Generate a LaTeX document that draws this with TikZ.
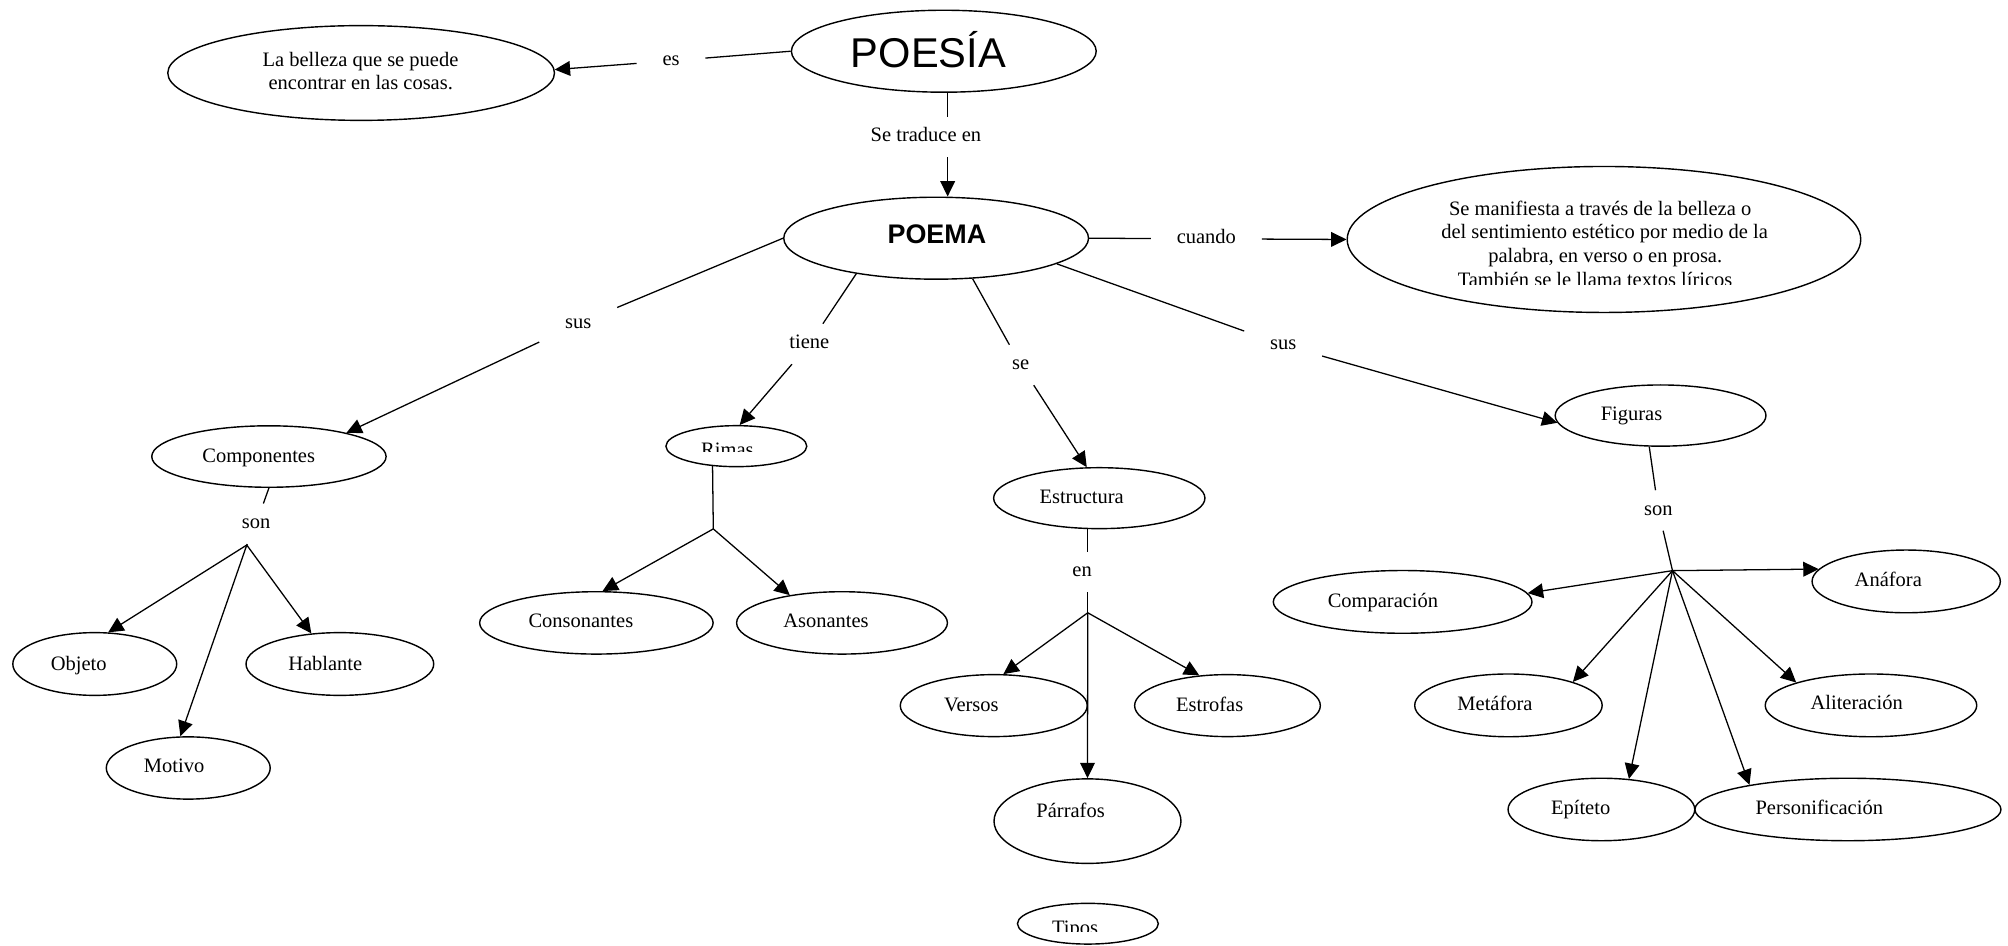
\documentclass[tikz,border=0pt]{standalone}
\usepackage{fontspec}
\setmainfont{Liberation Serif}
\newfontfamily\arialfont{Liberation Sans}
\usetikzlibrary{arrows.meta,shapes.geometric}
\begin{document}
\begin{tikzpicture}[x=1pt,y=-1pt,
  ell/.style 2 args={draw, ellipse, line width=1.1pt, inner sep=0pt, minimum width=#1, minimum height=#2},
  txt/.style={font=\fontsize{16}{18}\selectfont, inner sep=0pt, anchor=base},
  lab/.style={font=\fontsize{16}{18}\selectfont, inner xsep=20pt, inner ysep=12pt, text height=7.2pt, text depth=0pt},
  conn/.style={line width=1pt},
  arr/.style={conn, -{Triangle[length=12pt,width=11.5pt]}},
]
\useasboundingbox (0,0) rectangle (1568,738);

% ellipses
\node[ell={302pt}{74pt}] (belleza) at (282,57) {};
\node[ell={238pt}{64pt}] (poesia) at (737,40) {};
\node[ell={238pt}{64pt}] (poema) at (731,186) {};
\node[ell={401pt}{114pt}] (big) at (1252.5,187) {};
\node[ell={183pt}{48pt}] (comp) at (210,356.5) {};
\node[ell={110pt}{32pt}] (rimas) at (575,348.4) {};
\node[ell={165pt}{47.6pt}] (estr) at (858.4,389) {};
\node[ell={164.6pt}{47.8pt}] (figuras) at (1296.7,324.5) {};
\node[ell={128pt}{49pt}] (objeto) at (74,518.5) {};
\node[ell={146.6pt}{49pt}] (hablante) at (265.4,518.5) {};
\node[ell={128pt}{48.6pt}] (motivo) at (147,599.7) {};
\node[ell={182.3pt}{48.7pt}] (conson) at (465.7,486.4) {};
\node[ell={164.6pt}{48.7pt}] (ason) at (657.5,486.4) {};
\node[ell={146pt}{48.4pt}] (versos) at (776,551) {};
\node[ell={145pt}{48.4pt}] (estrofas) at (958.5,551) {};
\node[ell={146pt}{66pt}] (parrafos) at (849.2,641.2) {};
\node[ell={110pt}{31.8pt}] (tipos) at (849.5,721.3) {};
\node[ell={202pt}{49pt}] (compar) at (1095.3,470) {};
\node[ell={147pt}{49pt}] (anafora) at (1488.5,454) {};
\node[ell={146.4pt}{49pt}] (metafora) at (1177.9,550.8) {};
\node[ell={165.2pt}{49pt}] (aliter) at (1461,550.8) {};
\node[ell={145.8pt}{48.8pt}] (epiteto) at (1250.5,632.1) {};
\node[ell={239pt}{48.8pt}] (personif) at (1443,632.1) {};

% texts in ellipses
\node[txt] (tbel1) at (281.5,52.1) {La belleza que se puede};
\node[txt] (tbel2) at (281.7,69.8) {encontrar en las cosas.};
\node[txt, font=\arialfont\fontsize{32.5}{36}\selectfont] (tpoesia) at (725,52.8) {POESÍA};
\node[txt, font=\arialfont\bfseries\fontsize{21}{24}\selectfont] (tpoema) at (731.6,190) {POEMA};
\node[txt] (tbig1) at (1249.5,168) {Se manifiesta a través de la belleza o};
\node[txt] (tbig2) at (1253,186.5) {del sentimiento estético por medio de la};
\node[txt] (tbig3) at (1253.5,205) {palabra, en verso o en prosa.};
\begin{scope}
  \clip (1100,206) rectangle (1400,222.3);
  \node[txt] (tbig4) at (1245.5,223.5) {También se le llama textos líricos};
\end{scope}
\node[txt] (tcomp) at (202,361) {Componentes};
\begin{scope}
  \clip (530,335) rectangle (610,352.7);
  \node[txt] (trimas) at (568,356.8) {Rimas};
\end{scope}
\node[txt] (testr) at (844.6,393) {Estructura};
\node[txt] (tfiguras) at (1274,328) {Figuras};
\node[txt] (tobjeto) at (61.5,523.2) {Objeto};
\node[txt] (thablante) at (254,523.2) {Hablante};
\node[txt] (tmotivo) at (136,603.4) {Motivo};
\node[txt] (tconson) at (453.6,489.9) {Consonantes};
\node[txt] (tason) at (645,489.9) {Asonantes};
\node[txt] (tversos) at (758.5,555.2) {Versos};
\node[txt] (testrofas) at (944.6,555.2) {Estrofas};
\node[txt] (tparrafos) at (836,638) {Párrafos};
\begin{scope}
  \clip (800,708) rectangle (880,727.6);
  \node[txt] (ttipos) at (839.5,730.1) {Tipos};
\end{scope}
\node[txt] (tcompar) at (1079.9,474.3) {Comparación};
\node[txt] (tanafora) at (1474.5,457.6) {Anáfora};
\node[txt] (tmetafora) at (1167.4,555) {Metáfora};
\node[txt] (taliter) at (1449.8,554.4) {Aliteración};
\node[txt] (tepiteto) at (1234.3,635.7) {Epíteto};
\node[txt] (tpersonif) at (1420.6,635.7) {Personificación};

% link labels
\node[lab] (es) at (524,47.5) {es};
\node[lab] (trad) at (723,107) {Se traduce en};
\node[lab] (cuando) at (942,186.5) {cuando};
\node[lab] (sus1) at (451.5,252.8) {sus};
\node[lab] (tiene) at (632,268.6) {tiene};
\node[lab] (se) at (797,285) {se};
\node[lab] (sus2) at (1002,269.4) {sus};
\node[lab] (son1) at (200,409) {son};
\node[lab] (en) at (845,446.7) {en};
\node[lab] (son2) at (1295,398.6) {son};

% junction points
\coordinate (tradx) at (740,107);
\coordinate (enx) at (849.4,446.7);
\coordinate (h1) at (192.7,425.6);
\coordinate (h2) at (557,413);
\coordinate (h3) at (849.4,478.5);
\coordinate (h4) at (1306,445.6);

% connectors
\draw[conn] (poesia.west) -- (es);
\draw[arr] (es) -- (belleza.1);
\draw[conn] (poesia.south -| tradx) -- (trad.north -| tradx);
\draw[arr] (trad.south -| tradx) -- (poema.north -| tradx);
\draw[conn] (poema.east) -- (cuando);
\draw[arr] (cuando) -- (big.west);
\draw[conn] (poema.west) -- (sus1);
\draw[arr] (sus1) -- (comp.17);
\draw[conn] (comp.south) -- (son1);
\draw[conn] (son1) -- (h1);
\draw[arr] (h1) -- (objeto.67);
\draw[arr] (h1) -- (motivo.104);
\draw[arr] (h1) -- (hablante.133);
\draw[conn] (poema.204) -- (tiene);
\draw[arr] (tiene) -- (rimas.81);
\draw[conn] (rimas.220) -- (h2);
\draw[arr] (h2) -- (conson.79);
\draw[arr] (h2) -- (ason.152);
\draw[conn] (poema.312) -- (se);
\draw[arr] (se) -- (estr.112);
\draw[conn] (estr.south -| enx) -- (en.north -| enx);
\draw[conn] (en.south -| enx) -- (h3);
\draw[arr] (h3) -- (versos.73);
\draw[arr] (h3) -- (parrafos.north);
\draw[arr] (h3) -- (estrofas.133);
\draw[conn] (poema.348) -- (sus2);
\draw[arr] (sus2) -- (figuras.184);
\draw[conn] (figuras.250) -- (son2);
\draw[conn] (son2) -- (h4);
\draw[arr] (h4) -- (compar.4);
\draw[arr] (h4) -- (anafora.172);
\draw[arr] (h4) -- (metafora.20);
\draw[arr] (h4) -- (aliter.163);
\draw[arr] (h4) -- (epiteto.48);
\draw[arr] (h4) -- (personif.166);
\end{tikzpicture}
\end{document}
